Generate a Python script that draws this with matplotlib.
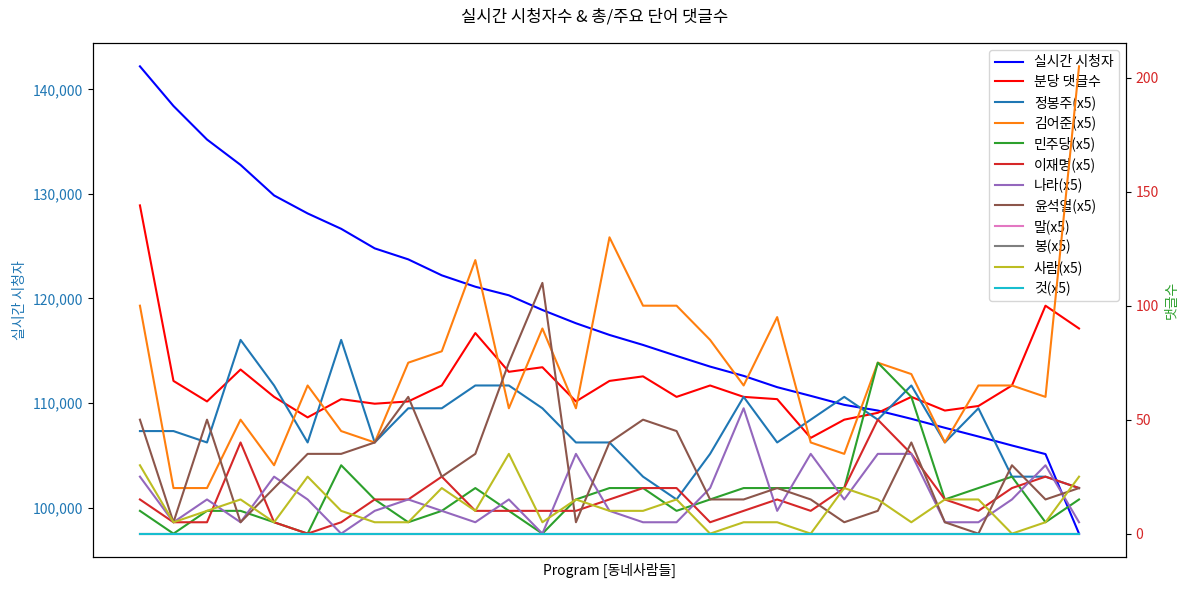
import matplotlib
matplotlib.use("Agg")
import matplotlib.pyplot as plt
import matplotlib.ticker as mticker
import numpy as np

plt.rcParams['font.family'] = ['Noto Sans CJK KR', 'DejaVu Sans']
plt.rcParams['axes.unicode_minus'] = False

# 실시간 시청자 / 분당 댓글수 (per minute)
viewers = [142196, 138406, 135198, 132773, 129852, 128133, 126663, 124792, 123742,
           122214, 121126, 120305, 118901, 117632, 116515, 115560, 114510, 113489,
           112601, 111522, 110691, 109832, 109287, 108495, 107636, 106805, 105946,
           105125, 97517]
comments = [144, 67, 58, 72, 60, 51, 59, 57, 58, 65, 88, 71, 73, 58, 67, 69, 60,
            65, 60, 59, 42, 50, 53, 60, 54, 56, 65, 100, 90]

# word counts per minute (plotted x5)
words = ['정봉주', '김어준', '민주당', '이재명', '나라', '윤석열', '말', '봉', '사람', '것']
jeong = [9, 9, 8, 17, 13, 8, 17, 8, 11, 11, 13, 13, 11, 8, 8, 5, 3, 7, 12, 8, 10, 12, 10, 13, 8, 11, 5, 5, 4]
kim = [20, 4, 4, 10, 6, 13, 9, 8, 15, 16, 24, 11, 18, 11, 26, 20, 20, 17, 13, 19, 8, 7, 15, 14, 8, 13, 13, 12, 41]
minju = [2, 0, 2, 2, 1, 0, 6, 3, 1, 2, 4, 2, 0, 3, 4, 4, 2, 3, 4, 4, 4, 4, 15, 12, 3, 4, 5, 1, 3]
lee = [3, 1, 1, 8, 1, 0, 1, 3, 3, 5, 2, 2, 2, 2, 3, 4, 4, 1, 2, 3, 2, 4, 10, 7, 3, 2, 4, 5, 4]
nara = [5, 1, 3, 1, 5, 3, 0, 2, 3, 2, 1, 3, 0, 7, 2, 1, 1, 4, 11, 2, 7, 3, 7, 7, 1, 1, 3, 6, 1]
yoon = [10, 1, 10, 1, 4, 7, 7, 8, 12, 5, 7, 15, 22, 1, 8, 10, 9, 3, 3, 4, 3, 1, 2, 8, 1, 0, 6, 3, 4]
mal = [0] * 29
bong = [0] * 29
saram = [6, 1, 2, 3, 1, 5, 2, 1, 1, 4, 2, 7, 1, 3, 2, 2, 3, 0, 1, 1, 0, 4, 3, 1, 3, 3, 0, 1, 5]
geot = [0] * 29
word_counts = [jeong, kim, minju, lee, nara, yoon, mal, bong, saram, geot]

x = np.arange(len(viewers))
colors = ['tab:blue', 'tab:orange', 'tab:green', 'tab:red', 'tab:purple',
          'tab:brown', 'tab:pink', 'tab:gray', 'tab:olive', 'tab:cyan']

fig, ax1 = plt.subplots(figsize=(11.89, 5.92), dpi=100)
fig.subplots_adjust(left=0.0782, right=0.947, top=0.9274, bottom=0.0591)

l1, = ax1.plot(x, viewers, color='blue', label='실시간 시청자')
ax1.set_ylabel('실시간 시청자', color='tab:blue')
ax1.tick_params(axis='y', labelcolor='tab:blue')
ax1.yaxis.set_major_formatter(mticker.FuncFormatter(lambda v, p: f'{int(v):,}'))
ax1.set_xticks([])
ax1.set_xlabel('Program [동네사람들]')

ax2 = ax1.twinx()
handles = [l1]
l2, = ax2.plot(x, comments, color='red', label='분당 댓글수')
handles.append(l2)
for w, cnt, c in zip(words, word_counts, colors):
    h, = ax2.plot(x, np.array(cnt) * 5, color=c, label=f'{w}(x5)')
    handles.append(h)
ax2.set_ylabel('댓글수', color='tab:green')
ax2.tick_params(axis='y', labelcolor='tab:red')

# legend sits on ax1, so ax2 lines draw over it
ax1.legend(handles=handles, labels=[h.get_label() for h in handles],
           loc='upper right', labelspacing=0.42)
fig.suptitle('실시간 시청자수 & 총/주요 단어 댓글수', y=0.985)

fig.savefig('out.png', dpi=100)
